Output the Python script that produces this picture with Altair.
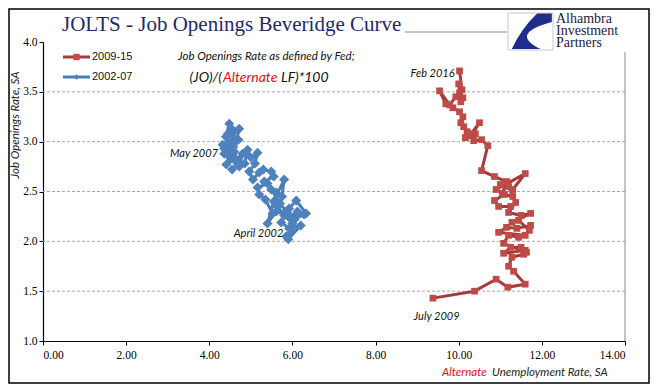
import altair as alt
import pandas as pd

# ---------------- data ----------------
red_x = [9.38, 10.38, 10.90, 11.18, 11.60, 11.32, 11.20, 11.28, 11.56, 11.60,
         11.08, 11.25, 11.50, 11.63, 11.08, 11.20, 11.44, 11.60, 10.96, 11.15,
         11.40, 11.73, 11.70, 11.44, 11.28, 11.73, 11.50, 11.20, 11.37, 11.25,
         10.96, 10.86, 11.10, 11.30, 11.20, 11.00, 11.30, 11.60, 10.90, 11.05,
         11.15, 10.86, 10.55, 10.70, 10.55, 10.36, 10.40, 10.16, 10.30, 10.50,
         10.30, 10.20, 10.12, 10.05, 10.10, 10.02, 9.86, 9.69, 9.54, 9.78,
         9.93, 10.10, 10.02, 10.05, 10.00, 10.08, 10.02]
red_y = [1.43, 1.50, 1.62, 1.54, 1.57, 1.70, 1.75, 1.84, 1.87, 1.91,
         1.88, 1.94, 1.94, 1.89, 1.98, 2.06, 2.04, 2.06, 2.09, 2.14,
         2.13, 2.16, 2.11, 2.21, 2.19, 2.28, 2.26, 2.29, 2.39, 2.35,
         2.35, 2.41, 2.47, 2.45, 2.55, 2.57, 2.52, 2.68, 2.52, 2.48,
         2.60, 2.65, 2.71, 2.96, 3.02, 3.01, 3.08, 3.04, 3.06, 3.19,
         3.08, 3.10, 3.15, 3.19, 3.25, 3.30, 3.34, 3.38, 3.51, 3.37,
         3.45, 3.44, 3.49, 3.40, 3.58, 3.52, 3.71]

blue_x = [5.85, 5.97, 5.73, 5.92, 6.20, 5.90, 6.05, 6.28, 6.12, 5.95,
          6.33, 6.09, 5.92, 6.00, 5.80, 5.64, 5.61, 5.40, 5.55, 5.80,
          5.75, 5.61, 5.49, 5.70, 5.85, 5.52, 5.35, 5.20, 5.16, 5.40,
          5.32, 5.55, 5.49, 5.30, 5.20, 5.05, 4.96, 5.10, 5.16, 5.00,
          4.92, 4.85, 4.72, 4.80, 4.65, 4.58, 4.70, 4.55, 4.72, 4.60,
          4.48, 4.56, 4.48, 4.40, 4.52, 4.36, 4.45, 4.62, 4.36, 4.32,
          4.50, 4.41, 4.60, 4.68, 4.55]
blue_y = [2.05, 2.12, 2.19, 2.13, 2.16, 2.02, 2.22, 2.27, 2.30, 2.25,
          2.28, 2.41, 2.33, 2.18, 2.26, 2.35, 2.30, 2.18, 2.40, 2.62,
          2.45, 2.49, 2.52, 2.38, 2.30, 2.28, 2.42, 2.47, 2.54, 2.58,
          2.60, 2.65, 2.70, 2.72, 2.69, 2.62, 2.70, 2.78, 2.89, 2.84,
          2.92, 2.78, 2.75, 2.88, 2.82, 2.95, 3.02, 3.06, 3.13, 2.90,
          2.85, 3.12, 3.18, 3.05, 2.98, 2.93, 3.08, 3.00, 2.88, 2.97,
          2.88, 2.77, 2.82, 2.78, 2.72]

x_ticks = [0, 2, 4, 6, 8, 10, 12, 14]
y_ticks = [1.0, 1.5, 2.0, 2.5, 3.0, 3.5, 4.0]
grid_y = [1.5, 2.0, 2.5, 3.0, 3.5]

point_labels = ["May 2007", "April 2002", "Feb 2016", "July 2009"]
label_x = [4.21, 5.78, 9.90, 9.47]
label_y = [2.88, 2.07, 3.68, 1.24]
label_align = ["right", "right", "right", "center"]

RED_LINE = "#A8393A"
RED_MARK = "#BE4B48"
BLUE_LINE = "#4A7EBB"
BLUE_MARK = "#4F81BD"
NAVY = "#1F2A6B"

W, H = 582, 299

xs = alt.Scale(domain=[0, 14], nice=False, zero=False)
ys = alt.Scale(domain=[1, 4], nice=False, zero=False)

X_AXIS = alt.Axis(values=x_ticks, format=".2f", title=None, grid=False,
                  labelFont="Liberation Serif", labelFontSize=11.5,
                  labelColor="#000", domainColor="#000", tickColor="#000",
                  tickSize=4, labelPadding=4, domainWidth=1.2)
Y_AXIS = alt.Axis(values=y_ticks, format=".1f", title=None, grid=False,
                  labelFont="Liberation Serif", labelFontSize=11.5,
                  labelColor="#000", domainColor="#000", tickColor="#000",
                  tickSize=4, labelPadding=2, domainWidth=1.2)

def X(field="x"):
    return alt.X(f"{field}:Q", scale=xs, axis=X_AXIS)

def Y(field="y"):
    return alt.Y(f"{field}:Q", scale=ys, axis=Y_AXIS)

red = pd.DataFrame({"x": red_x, "y": red_y, "i": list(range(len(red_x)))})
blue = pd.DataFrame({"x": blue_x, "y": blue_y, "i": list(range(len(blue_x)))})
grid = pd.DataFrame({"y": grid_y})
one = pd.DataFrame({"t": [""]})

# axes carrier + grid
axes_layer = alt.Chart(red).mark_point(opacity=0).encode(x=X(), y=Y())
grid_layer = alt.Chart(grid).mark_rule(color="#a8a8a8", strokeDash=[3, 2], strokeWidth=1).encode(y=Y())

def series(df, line_color, mark_color, shape, size):
    ln = alt.Chart(df).mark_line(color=line_color, strokeWidth=3, strokeJoin="round").encode(
        x=X(), y=Y(), order="i:Q")
    pt = alt.Chart(df).mark_point(shape=shape, filled=True, color=mark_color, size=size, opacity=1).encode(
        x=X(), y=Y())
    return [ln, pt]

blue_layer = series(blue, BLUE_LINE, BLUE_MARK, "diamond", 100)
red_layer = series(red, RED_LINE, RED_MARK, "square", 45)

lab_df = pd.DataFrame({"t": point_labels, "x": label_x, "y": label_y, "a": label_align})
labels = []
for al in ["right", "center"]:
    labels.append(
        alt.Chart(lab_df[lab_df.a == al]).mark_text(align=al, baseline="middle", font="Lato",
                                                    fontStyle="italic", fontSize=11, color="#111").encode(
            x=X(), y=Y(), text="t:N")
    )

def txt(text, px, py, size, color="#111", font="Lato", style="italic", align="left",
        baseline="middle", angle=0, weight="normal"):
    return alt.Chart(pd.DataFrame({"t": [text]})).mark_text(
        align=align, baseline=baseline, font=font, fontStyle=style, fontSize=size,
        color=color, angle=angle, fontWeight=weight
    ).encode(x=alt.value(px), y=alt.value(py), text="t:N")

def rule(x1, x2, y1, y2, color, width=1):
    return alt.Chart(one).mark_rule(color=color, strokeWidth=width).encode(
        x=alt.value(x1), x2=alt.value(x2), y=alt.value(y1), y2=alt.value(y2))

# frame & decorations
frame = alt.Chart(one).mark_rect(fill="white", fillOpacity=0, stroke="#000", strokeWidth=1.5).encode(
    x=alt.value(-34), x2=alt.value(606), y=alt.value(-33), y2=alt.value(341))
top_line = rule(362, 464, -10, -10, "#8a8a8a")
right_line = rule(582, 582, 10, H, "#8a8a8a")

title = txt("JOLTS - Job Openings Beveridge Curve", 19, -11.5, 21, color=NAVY,
            font="Liberation Serif", style="normal", baseline="alphabetic")

logo_box = alt.Chart(one).mark_rect(fill="white", stroke="#c8c8c8", strokeWidth=1).encode(
    x=alt.value(465), x2=alt.value(510), y=alt.value(-29), y2=alt.value(8))
swoosh_path = "M 0.3 -0.82 L 0.97 -0.82 L 0.97 -0.43 Q -1.0 0.1 0.46 0.8 L -0.85 0.8 Q -0.45 -0.1 0.3 -0.82 Z"
logo_mark = alt.Chart(one).mark_point(shape=swoosh_path, filled=True, color="#1E2C8C", size=1936,
                                      opacity=1, strokeWidth=0).encode(
    x=alt.value(487.5), y=alt.value(-10.5))
logo_text = alt.Chart(pd.DataFrame({"t": ["Alhambra\nInvestment\nPartners"]})).mark_text(
    align="left", baseline="alphabetic", font="Liberation Serif", fontSize=14,
    color="#1d2045", lineBreak="\n", lineHeight=12
).encode(x=alt.value(513), y=alt.value(-19), text="t:N")

# legend
leg_red_line = rule(20, 47, 15, 15, RED_LINE, 3)
leg_red_pt = alt.Chart(one).mark_point(shape="square", filled=True, color=RED_MARK, size=40, opacity=1).encode(
    x=alt.value(33.5), y=alt.value(15))
leg_red_t = txt("2009-15", 49, 15, 11, color="#111", font="Liberation Sans", style="normal")
leg_blue_line = rule(20, 47, 35, 35, BLUE_LINE, 3)
leg_blue_pt = alt.Chart(one).mark_point(shape="diamond", filled=True, color=BLUE_MARK, size=30, opacity=1).encode(
    x=alt.value(33.5), y=alt.value(35))
leg_blue_t = txt("2002-07", 49, 35, 11, color="#111", font="Liberation Sans", style="normal")

# annotation
ann1 = txt("Job Openings Rate as defined by Fed;", 135, 15, 11.5)
ann2a = txt("(JO)/(", 179, 36, 14, align="right")
ann2b = txt("Alternate", 180, 36, 14, color="#E01010")
ann2c = txt("LF)*100", 238, 36, 14)

# axis titles
xt1 = txt("Alternate", 399, 331, 11.5, color="#E01010")
xt2 = txt("Unemployment Rate, SA", 449, 331, 11.5, color="#222")
yt = txt("Job Openings Rate, SA", -27, 83, 11.5, color="#222", align="center", angle=270)

chart = alt.layer(
    frame, axes_layer, grid_layer, top_line, right_line,
    *blue_layer, *red_layer, *labels,
    title, logo_box, logo_mark, logo_text,
    leg_red_line, leg_red_pt, leg_red_t, leg_blue_line, leg_blue_pt, leg_blue_t,
    ann1, ann2a, ann2b, ann2c, xt1, xt2, yt,
).properties(
    width=W, height=H,
    autosize=alt.AutoSizeParams(type="none"),
    padding={"left": 35, "top": 34, "right": 25, "bottom": 43},
    background="white",
).configure_view(stroke=None)

chart.save("out.html", embed_options={"renderer": "svg", "actions": False})
